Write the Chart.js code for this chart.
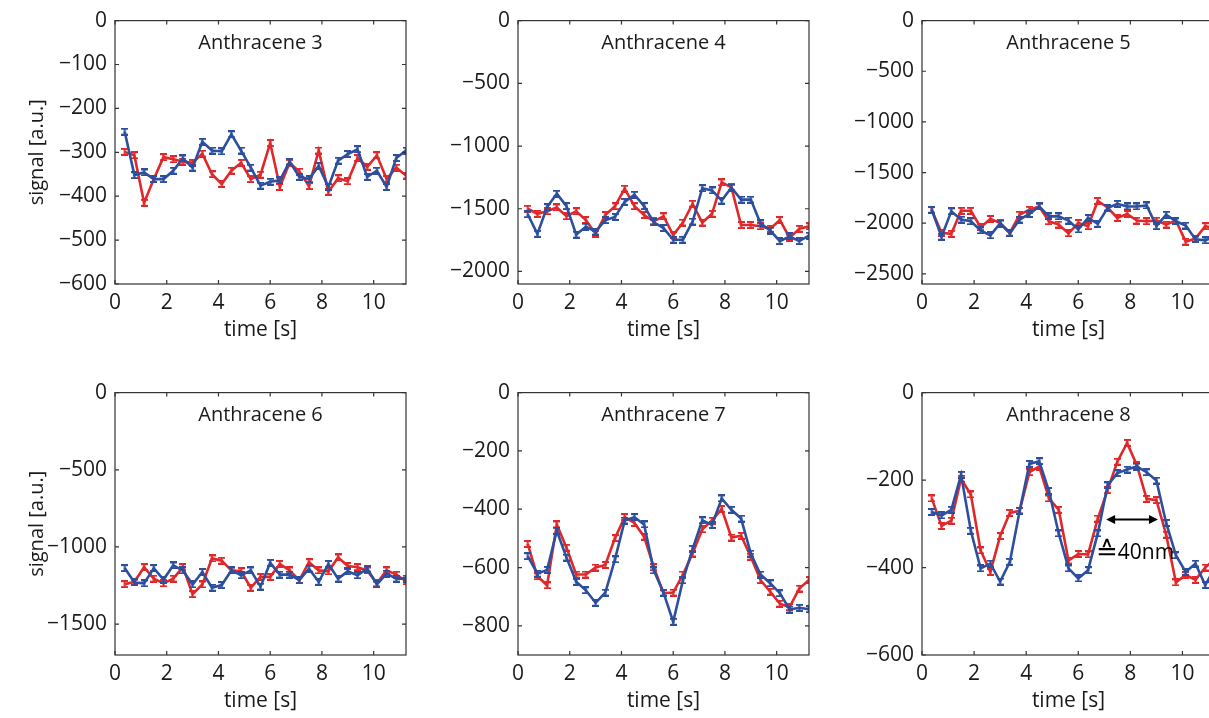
<!doctype html>
<html lang="en">
<head>
  <meta charset="utf-8">
  <title>Anthracene 3-8: signal vs time</title>
  <style>
    * { margin: 0; padding: 0; }
    body { width: 1209px; height: 718px; overflow: hidden; background: white; position: relative; }
    canvas { position: absolute; }
  </style>
</head>
<body>
  <canvas id="a3"></canvas>
  <canvas id="a4"></canvas>
  <canvas id="a5"></canvas>
  <canvas id="a6"></canvas>
  <canvas id="a7"></canvas>
  <canvas id="a8"></canvas>

  <script src="https://cdn.jsdelivr.net/npm/chart.js"></script>
  <script>
    // sample times [s]
    const times = [0.375, 0.75, 1.125, 1.5, 1.875, 2.25, 2.625, 3, 3.375, 3.75,
                   4.125, 4.5, 4.875, 5.25, 5.625, 6, 6.375, 6.75, 7.125, 7.5,
                   7.875, 8.25, 8.625, 9, 9.375, 9.75, 10.125, 10.5, 10.875, 11.25];

    // signal values
    const a3Red  = [-299,-307,-415,-361,-311,-316,-321,-324,-303,-350,-372,-342,-324,-361,-351,-279,-379,-324,-344,-377,-296,-390,-359,-366,-313,-333,-307,-361,-335,-353];
    const a3Blue = [-253,-352,-346,-361,-361,-342,-314,-335,-276,-296,-298,-259,-296,-335,-376,-367,-364,-321,-356,-361,-331,-379,-319,-304,-293,-356,-342,-379,-313,-296];

    const a4Red  = [-1500,-1540,-1520,-1490,-1560,-1520,-1590,-1700,-1550,-1480,-1340,-1480,-1550,-1600,-1560,-1710,-1610,-1460,-1610,-1540,-1290,-1330,-1630,-1630,-1640,-1660,-1590,-1730,-1660,-1640];
    const a4Blue = [-1544,-1700,-1487,-1380,-1479,-1706,-1643,-1682,-1591,-1565,-1445,-1388,-1479,-1609,-1654,-1747,-1747,-1602,-1336,-1354,-1435,-1331,-1427,-1427,-1617,-1674,-1758,-1721,-1758,-1714];

    const a5Red  = [-1870,-2094,-2104,-1877,-1877,-2039,-1958,-1997,-2094,-1916,-1867,-1835,-1981,-2013,-2100,-1997,-2029,-1780,-1845,-1948,-1909,-1974,-1981,-1974,-2013,-1974,-2182,-2152,-2029,-2050];
    const a5Blue = [-1867,-2133,-1883,-1964,-1981,-2071,-2120,-2003,-2100,-1964,-1909,-1835,-1932,-1932,-1974,-2062,-1948,-2006,-1851,-1809,-1835,-1835,-1825,-2029,-1916,-1981,-2023,-2159,-2169,-2130];

    const a6Red  = [-1241,-1226,-1131,-1205,-1236,-1205,-1131,-1306,-1243,-1074,-1089,-1152,-1158,-1264,-1194,-1194,-1110,-1152,-1215,-1099,-1152,-1158,-1068,-1124,-1131,-1152,-1236,-1152,-1179,-1222];
    const a6Blue = [-1137,-1230,-1236,-1137,-1211,-1120,-1152,-1243,-1162,-1264,-1247,-1152,-1184,-1152,-1257,-1103,-1179,-1179,-1215,-1141,-1226,-1110,-1205,-1158,-1184,-1141,-1243,-1173,-1205,-1205];

    const a7Red  = [-519,-630,-661,-452,-532,-624,-624,-600,-591,-499,-427,-447,-494,-599,-688,-686,-624,-552,-469,-439,-399,-497,-491,-563,-643,-683,-724,-736,-672,-643];
    const a7Blue = [-561,-621,-608,-474,-566,-649,-678,-721,-686,-572,-439,-427,-452,-610,-686,-786,-644,-536,-438,-454,-363,-402,-432,-552,-624,-654,-688,-744,-738,-743];

    const a8Red  = [-242,-305,-293,-197,-233,-361,-410,-328,-275,-270,-182,-169,-242,-268,-384,-369,-370,-288,-223,-158,-115,-166,-243,-246,-325,-434,-417,-428,-400,-380];
    const a8Blue = [-273,-281,-268,-188,-316,-402,-391,-432,-387,-270,-163,-157,-225,-322,-402,-425,-406,-322,-212,-184,-176,-169,-182,-201,-298,-372,-410,-391,-440,-400];

    // axis ranges and tick values
    const xTicks = [0, 2, 4, 6, 8, 10];
    const yMins  = [-600, -2100, -2600, -1700, -900, -600];
    const yTicks = [
      [0, -100, -200, -300, -400, -500, -600],
      [0, -500, -1000, -1500, -2000],
      [0, -500, -1000, -1500, -2000, -2500],
      [0, -500, -1000, -1500],
      [0, -200, -400, -600, -800],
      [0, -200, -400, -600]
    ];
    const titles = ['Anthracene 3', 'Anthracene 4', 'Anthracene 5', 'Anthracene 6', 'Anthracene 7', 'Anthracene 8'];

    // period marker in the Anthracene 8 panel
    const arrowFrom = 7.07, arrowTo = 9.06, arrowAt = -290;
    const noteSign = '≙', noteText = '40nm', noteX = 6.76, noteY = -367;

    const RED = '#e0282a';
    const BLUE = '#2c4f9e';
    const INK = '#1a1a1a';
    const FONT = "'Open Sans', sans-serif";

    Chart.defaults.font.family = FONT;
    Chart.defaults.font.size = 21;
    Chart.defaults.color = INK;

    // small error-bar like marker
    function capMarker(color) {
      const c = document.createElement('canvas');
      c.width = 7; c.height = 8;
      const g = c.getContext('2d');
      g.fillStyle = color;
      g.fillRect(0, 0, 7, 2);
      g.fillRect(0, 6, 7, 2);
      g.fillRect(2.5, 0, 2, 8);
      return c;
    }

    const fmt = v => v < 0 ? '\u2212' + Math.abs(v) : String(v);

    // matlab style box with inward ticks + title inside the axes
    const boxPlugin = {
      id: 'box',
      afterDatasetsDraw(chart, args, opts) {
        const { ctx, chartArea: a, scales } = chart;
        ctx.save();
        ctx.strokeStyle = '#333';
        ctx.lineWidth = 1.2;
        ctx.strokeRect(a.left, a.top, a.right - a.left, a.bottom - a.top);
        ctx.beginPath();
        scales.x.ticks.forEach(t => {
          const px = scales.x.getPixelForValue(t.value);
          ctx.moveTo(px, a.bottom); ctx.lineTo(px, a.bottom - 4);
          ctx.moveTo(px, a.top); ctx.lineTo(px, a.top + 4);
        });
        scales.y.ticks.forEach(t => {
          const py = scales.y.getPixelForValue(t.value);
          ctx.moveTo(a.left, py); ctx.lineTo(a.left + 4, py);
          ctx.moveTo(a.right, py); ctx.lineTo(a.right - 4, py);
        });
        ctx.stroke();

        ctx.fillStyle = INK;
        ctx.font = '20px ' + FONT;
        ctx.textAlign = 'center';
        ctx.textBaseline = 'middle';
        ctx.fillText(opts.text, (a.left + a.right) / 2, a.top + 23);

        if (opts.note) {
          const x0 = scales.x.getPixelForValue(arrowFrom);
          const x1 = scales.x.getPixelForValue(arrowTo);
          const y = scales.y.getPixelForValue(arrowAt);
          ctx.strokeStyle = '#000';
          ctx.fillStyle = '#000';
          ctx.lineWidth = 2;
          ctx.beginPath();
          ctx.moveTo(x0 + 6, y); ctx.lineTo(x1 - 6, y);
          ctx.stroke();
          ctx.beginPath();
          ctx.moveTo(x0, y); ctx.lineTo(x0 + 9, y - 4.5); ctx.lineTo(x0 + 9, y + 4.5); ctx.closePath();
          ctx.moveTo(x1, y); ctx.lineTo(x1 - 9, y - 4.5); ctx.lineTo(x1 - 9, y + 4.5); ctx.closePath();
          ctx.fill();
          const nx = scales.x.getPixelForValue(noteX);
          const ny = scales.y.getPixelForValue(noteY);
          ctx.textAlign = 'left';
          ctx.font = "26px 'DejaVu Sans', sans-serif";
          ctx.fillText(noteSign, nx - 2, ny);
          const sw = ctx.measureText(noteSign).width;
          ctx.font = '21px ' + FONT;
          ctx.fillText(noteText, nx - 2 + sw, ny);
        }
        ctx.restore();
      }
    };

    // panel placement: plot area left/top and size in page pixels
    const panels = [
      { id: 'a3', red: a3Red, blue: a3Blue, left: 115, top: 16,  w: 291, h: 268, ytitle: true },
      { id: 'a4', red: a4Red, blue: a4Blue, left: 518, top: 16,  w: 291, h: 268, ytitle: false },
      { id: 'a5', red: a5Red, blue: a5Blue, left: 922, top: 16,  w: 293, h: 268, ytitle: false },
      { id: 'a6', red: a6Red, blue: a6Blue, left: 115, top: 388, w: 291, h: 267, ytitle: true },
      { id: 'a7', red: a7Red, blue: a7Blue, left: 518, top: 388, w: 291, h: 267, ytitle: false },
      { id: 'a8', red: a8Red, blue: a8Blue, left: 922, top: 388, w: 293, h: 267, ytitle: false, note: true }
    ];

    const PAD_L = 25, AXIS_W = 90, PAD_T = 16, AXIS_H = 59, PAD_R = 8, PAD_B = 8;

    panels.forEach((p, i) => {
      const canvas = document.getElementById(p.id);
      canvas.width = PAD_L + AXIS_W + p.w + PAD_R;
      canvas.height = PAD_T + p.h + AXIS_H + PAD_B;
      canvas.style.left = (p.left - PAD_L - AXIS_W) + 'px';
      canvas.style.top = (p.top - PAD_T) + 'px';

      const pts = vals => times.map((t, k) => ({ x: t, y: vals[k] }));

      new Chart(canvas, {
        type: 'line',
        data: {
          datasets: [
            { label: 'blue', data: pts(p.blue), borderColor: BLUE, borderWidth: 2.6,
              pointStyle: capMarker(BLUE), pointRadius: 4, order: 0 },
            { label: 'red', data: pts(p.red), borderColor: RED, borderWidth: 2.6,
              pointStyle: capMarker(RED), pointRadius: 4, order: 1 }
          ]
        },
        options: {
          responsive: false,
          animation: false,
          layout: { padding: { left: PAD_L, top: PAD_T, right: PAD_R, bottom: PAD_B } },
          plugins: {
            legend: { display: false },
            tooltip: { enabled: false },
            box: { text: titles[i], note: !!p.note }
          },
          scales: {
            x: {
              type: 'linear', min: 0, max: 11.25,
              grid: { display: false, drawTicks: false },
              border: { display: false },
              ticks: { padding: 6, maxRotation: 0, autoSkip: false },
              afterBuildTicks: s => { s.ticks = xTicks.map(v => ({ value: v })); },
              title: { display: true, text: 'time [s]', padding: 0 },
              afterFit: s => { s.height = AXIS_H; }
            },
            y: {
              min: yMins[i], max: 0,
              grid: { display: false, drawTicks: false },
              border: { display: false },
              ticks: { padding: 8, autoSkip: false, callback: fmt },
              afterBuildTicks: s => { s.ticks = yTicks[i].map(v => ({ value: v })); },
              title: { display: p.ytitle, text: 'signal [a.u.]', padding: 0, font: { size: 20 } },
              afterFit: s => { s.width = AXIS_W; }
            }
          }
        },
        plugins: [boxPlugin]
      });
    });
  </script>
</body>
</html>
